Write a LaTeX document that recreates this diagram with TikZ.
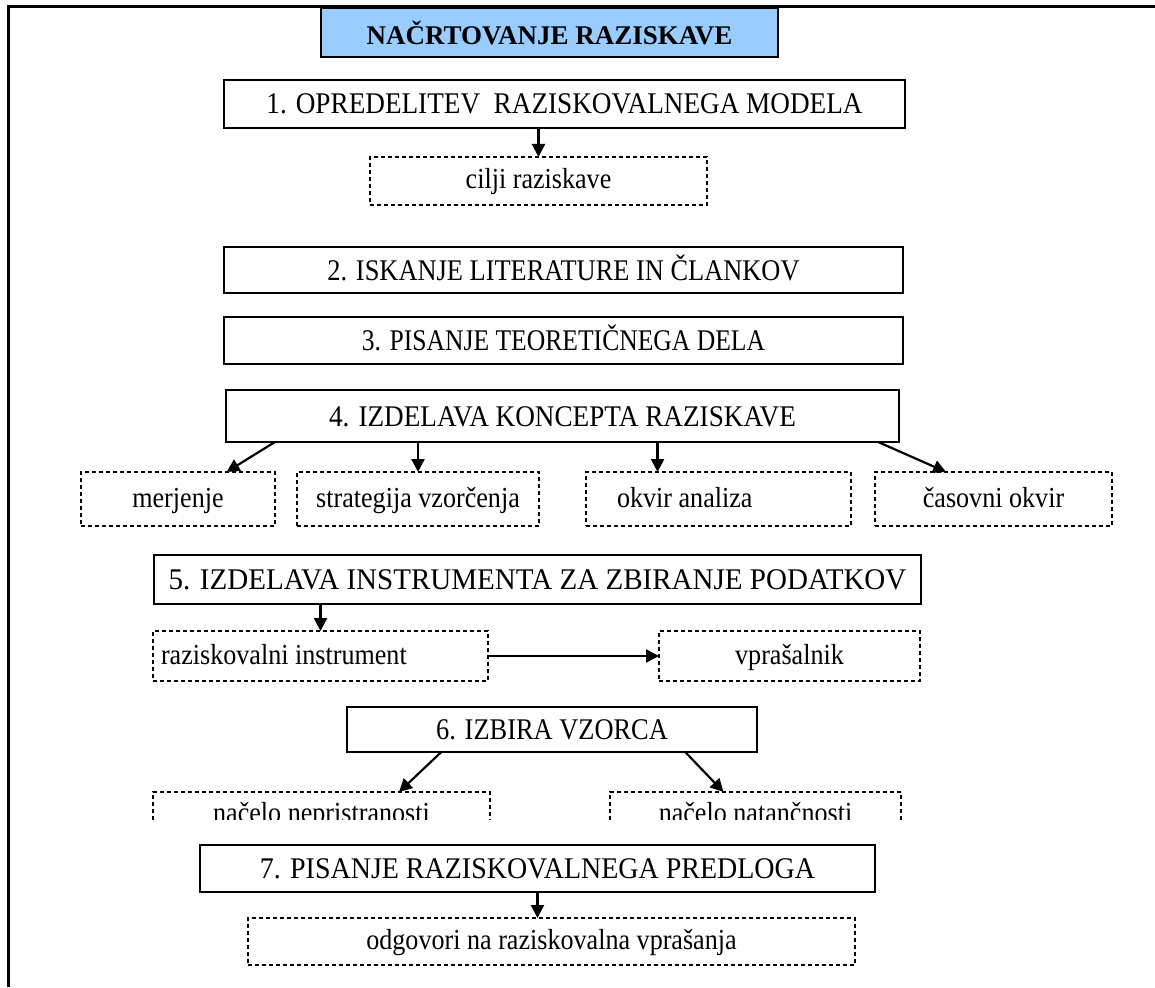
\documentclass[tikz,border=0pt]{standalone}
\usepackage{fontspec}
\setmainfont{Liberation Serif}
\newfontfamily\stepfont[FakeStretch=0.88]{Liberation Serif}
\newfontfamily\subfont[FakeStretch=0.9]{Liberation Serif}
\usetikzlibrary{arrows.meta,calc}
\definecolor{titleblue}{HTML}{99CCFF}
\begin{document}
\begin{tikzpicture}[x=1pt,y=-1pt,
  stepbox/.style={draw=black,line width=2.3pt,inner sep=0pt,outer sep=0pt,
    text height=20pt,text depth=0pt,
    font=\stepfont\fontsize{30}{36}\selectfont},
  subline/.style={draw=black,line width=1.2pt,dash pattern=on 4pt off 3pt},
  subbox/.style={subline,inner sep=0pt,outer sep=0pt,
    text height=22pt,text depth=6pt,
    font=\subfont\fontsize{29}{34}\selectfont},
  openbox/.style={inner sep=0pt,outer sep=0pt,
    text height=22pt,text depth=6pt,
    font=\subfont\fontsize{29}{34}\selectfont},
  link/.style={line width=2.2pt,-{Triangle[length=13pt,width=13pt]}},
]
\useasboundingbox (0,0) rectangle (1155,987);

% page frame (top and left edges)
\draw[line width=3pt] (8,987) -- (8,7) -- (1155,7);

% title
\node[draw=black,fill=titleblue,line width=1.6pt,inner sep=0pt,
  minimum width=457,minimum height=49,
  font=\bfseries\fontsize{27}{31}\selectfont] (title) at (549.5,32.5) {NAČRTOVANJE RAZISKAVE};

% step 1
\node[stepbox,minimum width=681,minimum height=48] (s1) at (564.5,104) {\scalebox{1.03}[1]{1. OPREDELITEV\ \ RAZISKOVALNEGA MODELA}};
\node[subbox,minimum width=337,minimum height=48] (c1) at (538.5,181) {cilji raziskave};

% steps 2 and 3
\node[stepbox,minimum width=679,minimum height=46] (s2) at (563.5,270) {2. ISKANJE LITERATURE IN ČLANKOV};
\node[stepbox,minimum width=679,minimum height=47] (s3) at (563.5,340.5) {\scalebox{0.97}[1]{3. PISANJE TEORETIČNEGA DELA}};

% step 4
\node[stepbox,minimum width=673,minimum height=52] (s4) at (562.5,416) {\scalebox{1.03}[1]{4. IZDELAVA KONCEPTA RAZISKAVE}};
\node[subbox,minimum width=194,minimum height=54] (m) at (178,499) {merjenje};
\node[subbox,minimum width=242,minimum height=54] (sv) at (418,499) {strategija vzorčenja};
\node[subbox,minimum width=265,minimum height=54] (ok) at (718.5,499) {\makebox[203pt][l]{okvir analiza}};
\node[subbox,minimum width=237,minimum height=54] (co) at (993.5,499) {časovni okvir};

% step 5
\node[stepbox,minimum width=767,minimum height=49] (s5) at (537.5,579.5) {\scalebox{1.1}[1]{5. IZDELAVA INSTRUMENTA ZA ZBIRANJE PODATKOV}};
\node[subbox,minimum width=335,minimum height=50] (ri) at (320.5,656) {\makebox[319pt][l]{raziskovalni instrument}};
\node[subbox,minimum width=261,minimum height=50] (vp) at (789.5,656) {vprašalnik};

% step 6
\node[stepbox,minimum width=410,minimum height=45] (s6) at (552,729.5) {6. IZBIRA VZORCA};
\begin{scope}
  \clip (100,790) rectangle (1000,819);
  \node[openbox,minimum width=337,minimum height=44] (np) at (321.5,814) {načelo nepristranosti};
  \node[openbox,minimum width=291,minimum height=44] (nt) at (755.5,814) {načelo natančnosti};
\end{scope}
\draw[subline] (np.north west) ++(0,28) -- (np.north west) -- (np.north east) -- ++(0,28);
\draw[subline] (nt.north west) ++(0,28) -- (nt.north west) -- (nt.north east) -- ++(0,28);

% step 7
\node[stepbox,minimum width=675,minimum height=47] (s7) at (537.5,868.5) {\scalebox{1.06}[1]{7. PISANJE RAZISKOVALNEGA PREDLOGA}};
\node[subbox,minimum width=607,minimum height=47] (od) at (551.5,941.5) {odgovori na raziskovalna vprašanja};

% arrow entry points on the lower boxes
\coordinate (okin) at ($(ok.north west)!0.27!(ok.north east)$);

% connectors
\draw[link] (c1.north |- s1.south) -- (c1.north);
\draw[link] ($(s4.south west)!0.0727!(s4.south east)$) -- ($(m.north)!0.5!(m.north east)$);
\draw[link] (sv.north |- s4.south) -- (sv.north);
\draw[link] (okin |- s4.south) -- (okin);
\draw[link] ($(s4.south west)!0.969!(s4.south east)$) -- ($(co.north west)!0.3!(co.north east)$);
\draw[link] (ri.north |- s5.south) -- (ri.north);
\draw[link] (ri.east) -- (vp.west);
\draw[link] ($(s6.south west)!0.23!(s6.south east)$) -- ($(np.north west)!0.73!(np.north east)$);
\draw[link] ($(s6.south west)!0.825!(s6.south east)$) -- ($(nt.north west)!0.39!(nt.north east)$);
\draw[link] (s7.south) -- (s7.south |- od.north);
\end{tikzpicture}
\end{document}
